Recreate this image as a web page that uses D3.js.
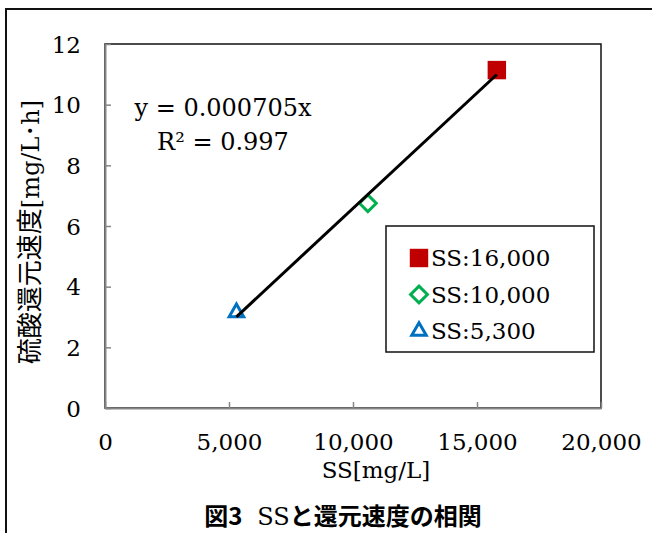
<!DOCTYPE html>
<html>
<head>
<meta charset="utf-8">
<script src="https://cdn.jsdelivr.net/npm/d3@7"></script>
<style>
  body { margin: 0; background: #fff; }
  svg text { font-family: "DejaVu Serif", "Noto Sans CJK JP", serif; }
</style>
</head>
<body>
<div id="chart"></div>
<script>
const width = 652;
const height = 533;

// series
const seriesNames = ["SS:16,000", "SS:10,000", "SS:5,300"];
const ssValues = [15800, 10600, 5300];
const rateValues = [11.14, 6.75, 3.15];
const xTicks = [0, 5000, 10000, 15000, 20000];
const yTicks = [0, 2, 4, 6, 8, 10, 12];
const equationLines = ["y = 0.000705x", "R² = 0.997"];

const colors = ["#C00000", "#00B050", "#0070C0"];

const margin = { top: 44, right: 51, bottom: 125, left: 105 };

let svg = d3.select("#chart")
    .append("svg")
        .attr("width", width)
        .attr("height", height);

// outer frame (runs off right and bottom)
svg.append("rect")
    .attr("x", 6).attr("y", 9)
    .attr("width", 700).attr("height", 600)
    .attr("fill", "none")
    .attr("stroke", "#111")
    .attr("stroke-width", 2);

let x = d3.scaleLinear().domain([0, 20000]).range([margin.left, width - margin.right]);
let y = d3.scaleLinear().domain([0, 12]).range([height - margin.bottom, margin.top]);

// plot area border
svg.append("rect")
    .attr("x", x(0)).attr("y", y(12))
    .attr("width", x(20000) - x(0))
    .attr("height", y(0) - y(12))
    .attr("fill", "none")
    .attr("stroke", "#111")
    .attr("stroke-width", 1.5);

const fmt = d3.format(",");

let xAxis = svg.append("g")
    .attr("transform", `translate(0,${y(0)})`)
    .call(d3.axisBottom(x).tickValues(xTicks).tickSize(-6).tickFormat(fmt).tickSizeOuter(0));
let yAxis = svg.append("g")
    .attr("transform", `translate(${x(0)},0)`)
    .call(d3.axisLeft(y).tickValues(yTicks).tickSize(-6).tickSizeOuter(0));

[xAxis, yAxis].forEach(g => {
    g.select(".domain").attr("stroke", "#868686").attr("stroke-width", 2);
    g.selectAll(".tick line").attr("stroke", "#868686").attr("stroke-width", 1.5);
    g.selectAll(".tick text")
        .attr("fill", "#000")
        .style("font-size", "23px")
        .style("font-family", "DejaVu Serif");
});
xAxis.selectAll(".tick text").attr("y", 26).attr("dy", "0.71em");
yAxis.selectAll(".tick text").attr("x", -24).attr("dy", "0.35em");

// least squares line through the points, drawn over their range
const mx = d3.mean(ssValues), my = d3.mean(rateValues);
const slope = d3.sum(ssValues, (v, i) => (v - mx) * (rateValues[i] - my)) /
              d3.sum(ssValues, v => (v - mx) * (v - mx));
const icpt = my - slope * mx;
const xr = d3.extent(ssValues);

// markers
const symSquare = d3.symbol().type(d3.symbolSquare).size(340);
const symDiamond = d3.symbol().type(d3.symbolDiamond2).size(180);
const symTriangle = d3.symbol().type(d3.symbolTriangle2).size(150);
const shapes = [symSquare, symDiamond, symTriangle];

const drawMarker = (g, i, cx, cy) => {
    let p = g.append("path")
        .attr("transform", `translate(${cx},${cy})`)
        .attr("d", shapes[i]());
    if (i === 0) {
        p.attr("fill", colors[i]);
    } else {
        p.attr("fill", "#fff").attr("stroke", colors[i]).attr("stroke-width", 3);
    }
};

let marks = svg.append("g");
ssValues.forEach((v, i) => drawMarker(marks, i, x(v), y(rateValues[i])));

svg.append("line")
    .attr("x1", x(xr[0])).attr("y1", y(slope * xr[0] + icpt))
    .attr("x2", x(xr[1])).attr("y2", y(slope * xr[1] + icpt))
    .attr("stroke", "#000")
    .attr("stroke-width", 3);

// equation label
svg.append("g").selectAll("text")
    .data(equationLines)
    .join("text")
        .attr("x", 223)
        .attr("y", (d, i) => 116 + i * 34)
        .attr("text-anchor", "middle")
        .style("font-size", "24px")
        .text(d => d);

// legend
let legend = svg.append("g");
legend.append("rect")
    .attr("x", 386).attr("y", 226)
    .attr("width", 208).attr("height", 126)
    .attr("fill", "#fff")
    .attr("stroke", "#111")
    .attr("stroke-width", 1.5);
seriesNames.forEach((name, i) => {
    const cy = 258 + i * 36.5;
    drawMarker(legend, i, 419, cy);
    legend.append("text")
        .attr("x", 431).attr("y", cy)
        .attr("dy", "0.35em")
        .style("font-size", "23px")
        .text(name);
});

// axis titles
svg.append("text")
    .attr("x", 376).attr("y", 478)
    .attr("text-anchor", "middle")
    .style("font-size", "23px")
    .text("SS[mg/L]");

let yTitle = svg.append("text")
    .attr("transform", "translate(39,232) rotate(-90)")
    .attr("text-anchor", "middle")
    .style("font-size", "24px");
yTitle.append("tspan").style("font-family", "Noto Sans CJK JP").style("font-size", "26px").text("硫酸還元速度");
yTitle.append("tspan").text("[mg/L･h]");

// caption
let cap = svg.append("text")
    .attr("x", 343).attr("y", 525)
    .attr("text-anchor", "middle")
    .style("font-size", "24px")
    .style("font-weight", "bold");
cap.append("tspan").style("font-family", "Noto Sans CJK JP").text("図3");
cap.append("tspan").style("font-family", "DejaVu Serif").style("font-weight", "normal").attr("dx", 15).text("SS");
cap.append("tspan").style("font-family", "Noto Sans CJK JP").text("と還元速度の相関");
</script>
</body>
</html>
